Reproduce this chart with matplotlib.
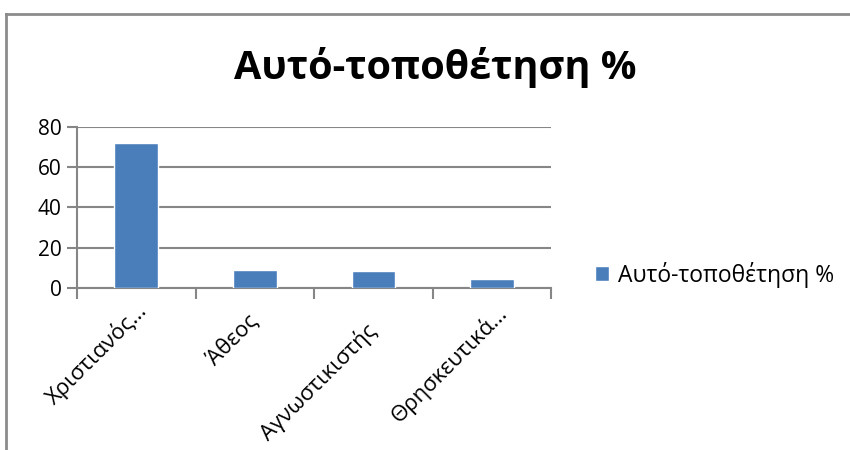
import matplotlib.pyplot as plt
from matplotlib.lines import Line2D
from matplotlib.transforms import ScaledTranslation

plt.rcParams['font.family'] = ['Open Sans', 'DejaVu Sans']

categories = ["Χριστιανός…", "Άθεος", "Αγνωστικιστής", "Θρησκευτικά…"]
values = [72, 9, 8.5, 4.5]
series_name = "Αυτό-τοποθέτηση %"
title = "Αυτό-τοποθέτηση %"

bar_color = "#4A7EBB"
grid_color = "#868686"

fig = plt.figure(figsize=(8.5, 4.5), dpi=100)
ax = fig.add_axes([0.0906, 0.36, 0.558, 0.358])

x = list(range(len(categories)))
ax.bar(x, values, width=0.37, color=bar_color, edgecolor="white", linewidth=1,
       label=series_name, zorder=3)

ax.set_xlim(-0.5, len(categories) - 0.5)
ax.set_ylim(0, 80)
ax.set_yticks([0, 20, 40, 60, 80])
ax.yaxis.grid(True, color=grid_color, linewidth=1.5, zorder=0)
ax.tick_params(axis="y", length=7, width=1.5, color=grid_color, labelsize=15, pad=4)

# category boundaries get the tick marks, labels sit at the centres
ax.set_xticks([i - 0.5 for i in range(len(categories) + 1)])
ax.set_xticklabels([])
ax.set_xticks(x, minor=True)
ax.set_xticklabels(categories, minor=True, rotation=45, ha="right", va="center",
                   rotation_mode="anchor", fontsize=16)
ax.tick_params(axis="x", which="major", length=8, width=1.5, color=grid_color)
ax.tick_params(axis="x", which="minor", length=0, pad=0)

# Excel places each rotated label a little differently; nudge them (pixels)
nudges = [(7, 19), (0, 30), (0, 40), (12, 22)]
for lab, (dx, dy) in zip(ax.get_xticklabels(minor=True), nudges):
    lab.set_transform(lab.get_transform() +
                      ScaledTranslation(dx / 100, -dy / 100, fig.dpi_scale_trans))

for side in ["top", "right"]:
    ax.spines[side].set_visible(False)
for side in ["left", "bottom"]:
    ax.spines[side].set_color(grid_color)
    ax.spines[side].set_linewidth(1.5)

fig.text(0.512, 0.85, title, ha="center", va="center", fontsize=28.5, fontweight="bold")

ax.legend(loc="center left", bbox_to_anchor=(0.676, 0.39), bbox_transform=fig.transFigure,
          frameon=False, fontsize=16.5, handlelength=0.6, handleheight=0.6,
          handletextpad=0.4)

# chart frame, partly visible
fig.add_artist(Line2D([0.007, 1.0], [0.969, 0.969], color="#8c8c8c", linewidth=2,
                      transform=fig.transFigure))
fig.add_artist(Line2D([0.007, 0.007], [0.0, 0.969], color="#8c8c8c", linewidth=2,
                      transform=fig.transFigure))

fig.savefig("out.png", dpi=100)
